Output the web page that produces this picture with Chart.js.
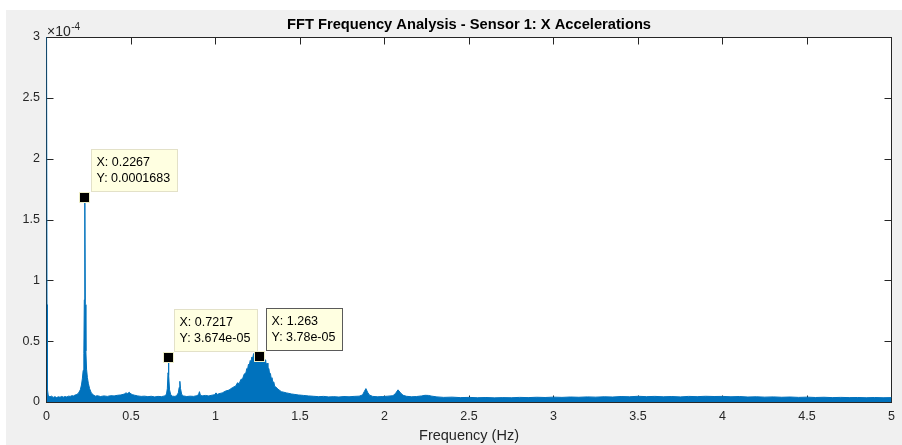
<!DOCTYPE html>
<html>
<head>
<meta charset="utf-8">
<title>FFT Frequency Analysis - Sensor 1: X Accelerations</title>
<script src="https://cdn.jsdelivr.net/npm/chart.js@4.4.1/dist/chart.umd.min.js"></script>
<style>
  html, body { margin: 0; padding: 0; background: #ffffff; }
  #wrap { width: 902px; height: 445px; position: relative; }
  canvas { display: block; }
</style>
</head>
<body>
<div id="wrap"><canvas id="fft" width="902" height="445"></canvas></div>
<script>
// Single-sided amplitude spectrum of the sensor 1 X acceleration record.
// Frequencies in Hz; amplitudes in units of 1e-4 (the axis multiplier).
const freqHz = [
  0, 0.003, 0.006, 0.01, 0.02, 0.03, 0.04, 0.05, 0.06, 0.07, 0.08, 0.09,
  0.10, 0.11, 0.12, 0.13, 0.14, 0.15, 0.16, 0.17, 0.18, 0.19, 0.20, 0.207,
  0.212, 0.217, 0.221, 0.2237, 0.2267, 0.2297, 0.233, 0.237, 0.242, 0.248, 0.255, 0.265,
  0.28, 0.29, 0.30, 0.32, 0.34, 0.36, 0.38, 0.40, 0.42, 0.44, 0.46, 0.47,
  0.48, 0.49, 0.50, 0.51, 0.52, 0.54, 0.56, 0.58, 0.60, 0.62, 0.64, 0.66,
  0.68, 0.70, 0.71, 0.715, 0.719, 0.7217, 0.724, 0.728, 0.735, 0.745, 0.76, 0.77,
  0.78, 0.785, 0.789, 0.793, 0.80, 0.81, 0.83, 0.85, 0.87, 0.89, 0.90, 0.905,
  0.91, 0.92, 0.94, 0.96, 0.98, 0.995, 1.003, 1.01, 1.02, 1.04, 1.06, 1.08,
  1.10, 1.12, 1.13, 1.14, 1.15, 1.16, 1.17, 1.18, 1.185, 1.19, 1.195, 1.20,
  1.205, 1.21, 1.215, 1.22, 1.225, 1.228, 1.232, 1.235, 1.24, 1.245, 1.25, 1.255,
  1.263, 1.268, 1.272, 1.276, 1.28, 1.285, 1.29, 1.297, 1.30, 1.305, 1.31, 1.316,
  1.32, 1.325, 1.33, 1.334, 1.34, 1.345, 1.35, 1.355,
  1.37, 1.39, 1.42, 1.45, 1.47, 1.49, 1.52, 1.55, 1.58, 1.61, 1.64, 1.67,
  1.70, 1.73, 1.76, 1.79, 1.82, 1.85, 1.87, 1.88, 1.89, 1.90, 1.91, 1.93,
  1.96, 1.99, 2.02, 2.05, 2.065, 2.08, 2.095, 2.11, 2.13, 2.16, 2.19, 2.22,
  2.24, 2.26, 2.28, 2.31, 2.35, 2.40, 2.45, 2.50, 2.55, 2.60, 2.65, 2.70,
  2.75, 2.80, 2.85, 2.90, 2.95, 3.00, 3.05, 3.10, 3.15, 3.20, 3.25, 3.30,
  3.35, 3.40, 3.45, 3.50, 3.55, 3.60, 3.65, 3.70, 3.75, 3.80, 3.85, 3.90,
  3.95, 4.00, 4.05, 4.10, 4.15, 4.20, 4.25, 4.30, 4.35, 4.40, 4.45, 4.50,
  4.55, 4.60, 4.65, 4.70, 4.75, 4.80, 4.85, 4.90, 4.95, 5.00
];
const ampE4 = [
  3.4, 0.8, 0.1, 0.055, 0.042, 0.048, 0.038, 0.044, 0.036, 0.043, 0.039, 0.046,
  0.04, 0.045, 0.041, 0.048, 0.046, 0.052, 0.05, 0.058, 0.062, 0.075, 0.1, 0.14,
  0.19, 0.26, 0.4, 0.84, 1.683, 0.8, 0.42, 0.27, 0.2, 0.15, 0.11, 0.075,
  0.055, 0.048, 0.052, 0.045, 0.05, 0.046, 0.052, 0.05, 0.055, 0.058, 0.065, 0.075,
  0.07, 0.08, 0.066, 0.06, 0.056, 0.05, 0.046, 0.048, 0.044, 0.047, 0.042, 0.046,
  0.044, 0.05, 0.065, 0.11, 0.24, 0.3674, 0.22, 0.1, 0.06, 0.048, 0.046, 0.052,
  0.075, 0.12, 0.17, 0.11, 0.062, 0.05, 0.045, 0.048, 0.046, 0.052, 0.062, 0.085,
  0.058, 0.05, 0.054, 0.05, 0.056, 0.06, 0.075, 0.062, 0.068, 0.075, 0.09, 0.098,
  0.118, 0.132, 0.158, 0.15, 0.185, 0.19, 0.23, 0.24, 0.275, 0.27, 0.31, 0.3,
  0.34, 0.33, 0.37, 0.36, 0.395, 0.40, 0.365, 0.385, 0.36, 0.39, 0.35, 0.372,
  0.378, 0.35, 0.368, 0.34, 0.365, 0.33, 0.35, 0.345, 0.3, 0.32, 0.27, 0.275,
  0.23, 0.235, 0.19, 0.2, 0.16, 0.165, 0.13, 0.126,
  0.105, 0.085, 0.075, 0.066, 0.062, 0.058, 0.054, 0.05, 0.047, 0.044, 0.046, 0.042,
  0.044, 0.041, 0.045, 0.043, 0.046, 0.048, 0.058, 0.085, 0.11, 0.08, 0.058, 0.046,
  0.043, 0.045, 0.048, 0.052, 0.07, 0.1, 0.075, 0.055, 0.047, 0.043, 0.045, 0.05,
  0.055, 0.054, 0.048, 0.042, 0.038, 0.04, 0.036, 0.038, 0.035, 0.037, 0.034, 0.036,
  0.035, 0.038, 0.036, 0.039, 0.037, 0.04, 0.038, 0.041, 0.039, 0.042, 0.04, 0.043,
  0.041, 0.045, 0.043, 0.047, 0.044, 0.046, 0.043, 0.045, 0.042, 0.046, 0.044, 0.047,
  0.045, 0.046, 0.043, 0.045, 0.041, 0.043, 0.04, 0.042, 0.039, 0.041, 0.038, 0.04,
  0.037, 0.039, 0.036, 0.038, 0.036, 0.037, 0.035, 0.037, 0.035, 0.036
];
const AMP_UNIT = 1e-4;

// Axis ticks
const xTickValues = [0, 0.5, 1, 1.5, 2, 2.5, 3, 3.5, 4, 4.5, 5];
const yTickValuesE4 = [0, 0.5, 1, 1.5, 2, 2.5, 3];

// Frequencies carrying a data tip; the last one is the active tip
const tipFreqs = [0.2267, 0.7217, 1.263];

const titleText = 'FFT Frequency Analysis - Sensor 1: X Accelerations';
const xLabelText = 'Frequency (Hz)';

const FONT = '"Liberation Sans", Arial, Helvetica, sans-serif';
const AXIS_COLOR = '#262626';
const LINE_COLOR = '#0072BD';
const TICK_LEN = 7;

const spectrum = freqHz.map((f, i) => ({ x: f, y: ampE4[i] * AMP_UNIT }));

// Number formatting as used by the data tips (4 significant digits)
function fmtG4(v) {
  if (v === 0) return '0';
  const e = Math.floor(Math.log10(Math.abs(v)));
  if (e < -4 || e >= 4) {
    let [m, ex] = v.toExponential(3).split('e');
    m = m.replace(/\.?0+$/, '');
    const sign = ex[0] === '-' ? '-' : '+';
    let digits = ex.replace(/^[+-]/, '');
    if (digits.length < 2) digits = '0' + digits;
    return m + 'e' + sign + digits;
  }
  let s = Number(v.toPrecision(4)).toString();
  if (s.includes('e')) s = v.toFixed(Math.max(0, 3 - e));
  return s;
}

const frame = {
  id: 'frame',
  beforeDraw(chart) {
    const { ctx, chartArea: a } = chart;
    ctx.save();
    ctx.fillStyle = '#ffffff';
    ctx.fillRect(0, 0, chart.width, chart.height);
    ctx.fillStyle = '#f0f0f0';
    ctx.fillRect(6, 10, chart.width - 6, chart.height - 10);
    ctx.fillStyle = '#ffffff';
    ctx.fillRect(Math.floor(a.left), a.top, a.right - Math.floor(a.left), a.bottom - a.top);
    ctx.restore();
  },
  beforeDatasetsDraw(chart) {
    const { ctx, chartArea: a, scales: { x, y } } = chart;
    const L = Math.floor(a.left) + 0.5, R = Math.round(a.right) - 0.5;
    const T = Math.round(a.top) + 0.5, B = Math.round(a.bottom) + 0.5;
    ctx.save();
    ctx.strokeStyle = AXIS_COLOR;
    ctx.lineWidth = 1;
    ctx.strokeRect(L, T, R - L, B - T);
    ctx.beginPath();
    x.ticks.forEach(t => {
      const px = Math.floor(x.getPixelForValue(t.value)) + 0.5;
      ctx.moveTo(px, B); ctx.lineTo(px, B - TICK_LEN);
      ctx.moveTo(px, T); ctx.lineTo(px, T + TICK_LEN);
    });
    y.ticks.forEach(t => {
      const py = Math.round(y.getPixelForValue(t.value)) + 0.5;
      ctx.moveTo(L, py); ctx.lineTo(L + TICK_LEN, py);
      ctx.moveTo(R, py); ctx.lineTo(R - TICK_LEN, py);
    });
    ctx.stroke();

    // Title
    ctx.fillStyle = '#000000';
    ctx.font = 'bold 14.7px ' + FONT;
    ctx.textAlign = 'center';
    ctx.textBaseline = 'middle';
    ctx.fillText(titleText, (a.left + a.right) / 2, 25);

    // Axis multiplier
    ctx.fillStyle = AXIS_COLOR;
    ctx.textAlign = 'left';
    ctx.textBaseline = 'alphabetic';
    ctx.font = '14px ' + FONT;
    const base = '\u00d710';
    ctx.fillText(base, Math.floor(a.left) + 1, 35.5);
    const w = ctx.measureText(base).width;
    ctx.font = '10px ' + FONT;
    ctx.fillText('-4', Math.floor(a.left) + 1 + w + 0.5, 29.5);
    ctx.restore();
  },
  afterDatasetsDraw(chart) {
    const { ctx, scales: { x, y } } = chart;
    ctx.save();
    tipFreqs.forEach((f, k) => {
      const idx = freqHz.indexOf(f);
      const pt = spectrum[idx];
      const px = x.getPixelForValue(pt.x);
      const py = y.getPixelForValue(pt.y);
      const lines = ['X: ' + fmtG4(pt.x), 'Y: ' + fmtG4(pt.y)];
      ctx.font = '12.5px ' + FONT;
      const tw = Math.max(...lines.map(s => ctx.measureText(s).width));
      const bw = Math.round(tw + 12), bh = 42;
      const bx = Math.round(px + 6) + 0.5;
      const by = Math.round(py - 6 - bh) + 0.5;
      const active = k === tipFreqs.length - 1;
      ctx.fillStyle = '#ffffe1';
      ctx.fillRect(bx, by, bw, bh);
      ctx.lineWidth = 1;
      ctx.strokeStyle = active ? '#5a5a5a' : '#e3e1c8';
      ctx.strokeRect(bx, by, bw, bh);
      ctx.fillStyle = '#000000';
      ctx.textAlign = 'left';
      ctx.textBaseline = 'middle';
      ctx.fillText(lines[0], bx + 5, by + 13.5);
      ctx.fillText(lines[1], bx + 5, by + 29.5);
      // marker
      const s = 9;
      ctx.fillStyle = '#000000';
      ctx.fillRect(Math.round(px - s / 2), Math.round(py - s / 2), s, s);
      ctx.strokeStyle = '#eeeec8';
      ctx.strokeRect(Math.round(px - s / 2) - 0.5, Math.round(py - s / 2) - 0.5, s + 1, s + 1);
    });
    ctx.restore();
  }
};

new Chart(document.getElementById('fft'), {
  type: 'line',
  data: {
    datasets: [{
      data: spectrum,
      borderColor: LINE_COLOR,
      backgroundColor: LINE_COLOR,
      borderWidth: 1,
      fill: 'origin',
      pointRadius: 0,
      tension: 0
    }]
  },
  options: {
    responsive: false,
    animation: false,
    devicePixelRatio: 1,
    layout: { padding: { left: 0, top: 37, right: 5, bottom: 0 } },
    plugins: {
      legend: { display: false },
      title: { display: false },
      tooltip: { enabled: false }
    },
    scales: {
      x: {
        type: 'linear',
        min: 0,
        max: 5,
        grid: { display: false, drawTicks: false },
        border: { display: false },
        afterBuildTicks(scale) {
          scale.ticks = xTickValues.map(v => ({ value: v }));
        },
        afterFit(scale) { scale.height = 43; },
        ticks: {
          padding: 7,
          color: AXIS_COLOR,
          font: { family: FONT, size: 12.5 },
          maxRotation: 0,
          autoSkip: false,
          callback: v => String(+v.toFixed(1))
        },
        title: {
          display: true,
          text: xLabelText,
          color: AXIS_COLOR,
          font: { family: FONT, size: 14.5 },
          padding: { top: 0, bottom: 0 }
        }
      },
      y: {
        type: 'linear',
        min: 0,
        max: 3 * AMP_UNIT,
        grid: { display: false, drawTicks: false },
        border: { display: false },
        afterBuildTicks(scale) {
          scale.ticks = yTickValuesE4.map(v => ({ value: v * AMP_UNIT }));
        },
        afterFit(scale) { scale.width = 46.5; },
        ticks: {
          padding: 6.5,
          color: AXIS_COLOR,
          font: { family: FONT, size: 12.5 },
          autoSkip: false,
          callback: v => String(+(v / AMP_UNIT).toFixed(1))
        }
      }
    }
  },
  plugins: [frame]
});
</script>
</body>
</html>
